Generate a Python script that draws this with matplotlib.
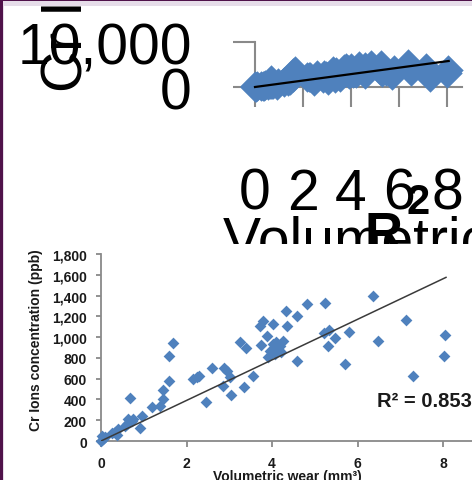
import matplotlib
matplotlib.use("Agg")
import matplotlib.pyplot as plt
from matplotlib.patches import Rectangle

# values
wear = [0.00, 0.02, 0.05, 0.09, 0.25, 0.33, 0.37, 0.40, 0.56, 0.61, 0.63, 0.68, 0.72, 0.75, 0.67, 0.91, 0.96,
        1.19, 1.38, 1.45, 1.45, 1.59, 1.59, 1.68,
        2.15, 2.25, 2.30, 2.45, 2.60, 2.85, 2.88, 2.95, 3.02, 3.04, 3.25, 3.35, 3.39, 3.56,
        3.72, 3.74, 3.79, 3.88, 3.91, 3.95, 4.02, 4.02, 4.07, 4.10, 4.14, 4.19, 4.20, 4.26, 4.33, 4.35,
        4.58, 4.58, 4.82, 5.22, 5.24, 5.31, 5.33, 5.47, 5.71, 5.80, 6.36, 6.48, 7.13, 7.30, 8.02, 8.05]
cr = [0, 48, 19, 38, 80, 87, 55, 116, 144, 164, 212, 180, 193, 210, 410, 125, 241,
      327, 337, 404, 491, 578, 818, 943,
      597, 616, 625, 375, 703, 530, 703, 674, 616, 443, 953, 520, 895, 626,
      1107, 924, 1155, 1011, 808, 870, 1126, 934, 837, 953, 886, 914, 860, 963, 1251, 1107,
      1203, 770, 1319, 1040, 1328, 914, 1068, 991, 741, 1049, 1396, 963, 1165, 626, 818, 1020]

trend_x = [0, 8.07]
trend_y = [0, 1575]

xticks = [0, 2, 4, 6, 8]
yticks = [0, 200, 400, 600, 800, 1000, 1200, 1400, 1600, 1800]
ytick_labels = [f"{v:,}" for v in yticks]

top_ymax = 2725
top_yticks = [0, top_ymax]
top_ytick_labels = ["0", "10,000"]

xlabel = "Volumetric wear (mm³)"
ylabel = "Cr Ions concentration (ppb)"
r2_text = "R² = 0.8531"

blue = "#4F81BD"
gray = "#898989"
dark = "#50124a"
lavender = "#e6dde9"
ink = "#1a1a1a"

plt.rcParams["font.family"] = ["Liberation Sans", "DejaVu Sans"]
big = 41

W, H = 472, 481
fig = plt.figure(figsize=(4.72, 4.81), dpi=100)


def fx(px):
    return px / W


def fy(py):
    return 1 - py / H


# ---- big, broken top chart ----
ax1 = fig.add_axes([fx(255), fy(88), (462 - 255) / W, (88 - 43) / H])
ax1.scatter(wear, cr, marker="D", s=15.5 ** 2, color=blue, linewidths=0, clip_on=False, zorder=3)
ax1.plot(trend_x, trend_y, color="black", lw=1.6, zorder=4, clip_on=False)
ax1.set_xlim(0, (462 - 255) / 24)
ax1.set_ylim(0, top_ymax)
for s in ["top", "right"]:
    ax1.spines[s].set_visible(False)
for s in ["left", "bottom"]:
    ax1.spines[s].set_color(gray)
    ax1.spines[s].set_linewidth(1.5)
ax1.set_xticks(xticks)
ax1.set_xticklabels([str(v) for v in xticks])
ax1.set_yticks(top_yticks)
ax1.set_yticklabels(top_ytick_labels)
ax1.tick_params(axis="x", length=14.5, width=1.5, color=gray, pad=43, labelsize=big)
ax1.tick_params(axis="y", length=16, width=1.5, color=gray, pad=29.5, labelsize=big)
ax1.patch.set_alpha(0)

fig.text(fx(82), fy(92), ylabel, rotation=90, rotation_mode="anchor",
         ha="left", va="baseline", fontsize=big)
fig.text(fx(223), fy(258), xlabel, ha="left", va="baseline", fontsize=big)
fig.text(fx(365), fy(250), "R", ha="left", va="baseline", fontsize=38, fontweight="bold")
fig.text(fx(406), fy(214), "2", ha="left", va="baseline", fontsize=30, fontweight="bold")

# white panel of the small chart
fig.add_artist(Rectangle((fx(3), 0), 1, fy(245), transform=fig.transFigure,
                         facecolor="white", edgecolor="none", zorder=4))

# ---- readable scatter chart ----
ax2 = fig.add_axes([fx(101), fy(442), (W - 101) / W, (442 - 255) / H])
ax2.set_zorder(5)
ax2.patch.set_alpha(0)
ax2.scatter(wear, cr, marker="D", s=6.0 ** 2, color=blue, linewidths=0, clip_on=False, zorder=3)
ax2.plot(trend_x, trend_y, color="#3a3a3a", lw=1.1, zorder=4)
ax2.set_xlim(0, (W - 101) / 42.75)
ax2.set_ylim(0, 1800)
for s in ["top", "right"]:
    ax2.spines[s].set_visible(False)
for s in ["left", "bottom"]:
    ax2.spines[s].set_color(gray)
    ax2.spines[s].set_linewidth(1.3)
ax2.set_xticks(xticks)
ax2.set_xticklabels([str(v) for v in xticks], fontweight="bold")
ax2.set_yticks(yticks)
ax2.set_yticklabels(ytick_labels, fontweight="bold")
ax2.tick_params(axis="x", length=4.3, width=1.3, color=gray, pad=6.5, labelsize=10, labelcolor=ink)
ax2.tick_params(axis="y", length=3.6, width=1.3, color=gray, pad=6.5, labelsize=10, labelcolor=ink)

fig.text(fx(36), fy(340), ylabel, rotation=90, ha="center", va="center", fontsize=10,
         fontweight="bold", color=ink, zorder=6)
fig.text(fx(287), fy(481), xlabel, ha="center", va="baseline", fontsize=10,
         fontweight="bold", color=ink, zorder=6)
fig.text(fx(377), fy(407), r2_text, ha="left", va="baseline", fontsize=14.5,
         fontweight="bold", color=ink, zorder=6)

# purple frame
fig.add_artist(Rectangle((0, fy(7)), 1, 5 / H, transform=fig.transFigure,
                         facecolor=lavender, edgecolor="none", zorder=9))
fig.add_artist(Rectangle((0, fy(2)), 1, 2 / H, transform=fig.transFigure,
                         facecolor=dark, edgecolor="none", zorder=10))
fig.add_artist(Rectangle((fx(2.5), 0), 1 / W, 1, transform=fig.transFigure,
                         facecolor=lavender, edgecolor="none", zorder=9))
fig.add_artist(Rectangle((0, 0), fx(2.5), 1, transform=fig.transFigure,
                         facecolor=dark, edgecolor="none", zorder=10))

fig.savefig("out.png", dpi=100)
